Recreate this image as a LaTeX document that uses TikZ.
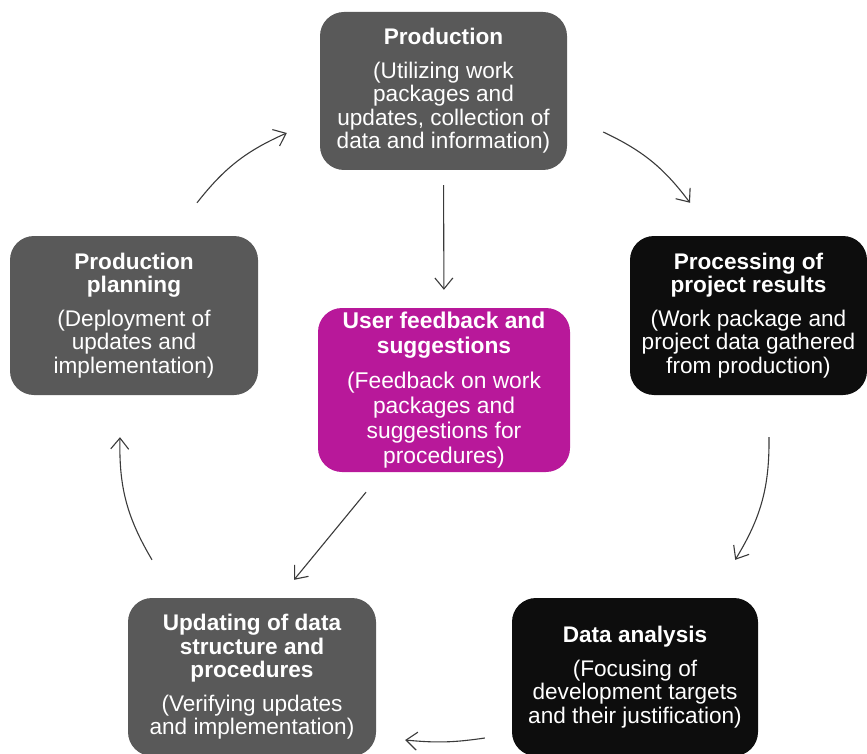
\documentclass[tikz,border=0pt]{standalone}
\usepackage{fontspec}
\setmainfont{Liberation Sans}
\usetikzlibrary{arrows.meta,positioning,calc}
\definecolor{mgrey}{HTML}{595959}
\definecolor{mblack}{HTML}{0D0D0D}
\definecolor{mpink}{HTML}{B8189A}
\definecolor{lgrey}{HTML}{3A3A3A}
\tikzstyle{l1}=[line width=1.1pt, draw=lgrey]
\tikzstyle{stage}=[rectangle, rounded corners=24pt, minimum width=247pt, minimum height=158pt, inner sep=0pt, align=center, text=white, font=\fontsize{22.6}{23.5}\selectfont]
\tikzstyle{greystage}=[stage, fill=mgrey]
\tikzstyle{blackstage}=[stage, fill=mblack]
\tikzstyle{hub}=[stage, fill=mpink, minimum width=252pt, minimum height=164pt, font=\fontsize{22.8}{25}\selectfont]
\tikzstyle{flow}=[l1, -{Straight Barb[length=11pt,width=18pt]}]
\newcommand{\ttl}[1]{{\bfseries #1}}

\begin{document}
\begin{tikzpicture}[x=1pt, y=-1pt]
    \useasboundingbox (0,0) rectangle (867,754);

    % the six stages of the cycle
    \node[greystage] (prod) at (443.5,91) {\ttl{Production}\\[10pt]
        (Utilizing work\\packages and\\updates, collection of\\data and information)};
    \node[blackstage, minimum width=237pt, minimum height=159pt] (proc) at (748.5,315.5) {\ttl{Processing of}\\\ttl{project results}\\[10pt]
        (Work package and\\project data gathered\\from production)};
    \node[blackstage, minimum width=246pt] (data) at (635,677) {\ttl{Data analysis}\\[10pt]
        (Focusing of\\development targets\\and their justification)};
    \node[greystage, minimum width=248pt] (upd) at (252,677) {\ttl{Updating of data}\\\ttl{structure and}\\\ttl{procedures}\\[10pt]
        (Verifying updates\\and implementation)};
    \node[greystage, minimum width=248pt, minimum height=159pt] (plan) at (134,315.5) {\ttl{Production}\\\ttl{planning}\\[10pt]
        (Deployment of\\updates and\\implementation)};
    \node[hub] (user) at (444,390) {\ttl{User feedback and}\\\ttl{suggestions}\\[10pt]
        (Feedback on work\\packages and\\suggestions for\\procedures)};

    % outer loop
    \draw[flow] ([shift={(63,-33)}]plan.north) to[bend left=14] ([shift={(-33,42)}]prod.west);
    \draw[flow] ([shift={(36,41)}]prod.east) to[bend left=14] ([shift={(-58.5,-33)}]proc.north);
    \draw[flow] ([shift={(20.5,42)}]proc.south) to[bend left=16] ([shift={(-23,-38)}]data.north east);
    \draw[flow] ([shift={(-27,61)}]data.west) to[bend left=7] ([shift={(29,63)}]upd.east);
    \draw[flow] ([shift={(-100,-38)}]upd.north) to[bend left=16] ([shift={(-14,42)}]plan.south);

    % feedback path through the centre
    \draw[flow, shorten <=15pt, shorten >=18pt] (prod.south) -- (user.north);
    \draw[flow] ([shift={(-78,20)}]user.south) -- ([shift={(42,-18)}]upd.north);

\end{tikzpicture}
\end{document}
